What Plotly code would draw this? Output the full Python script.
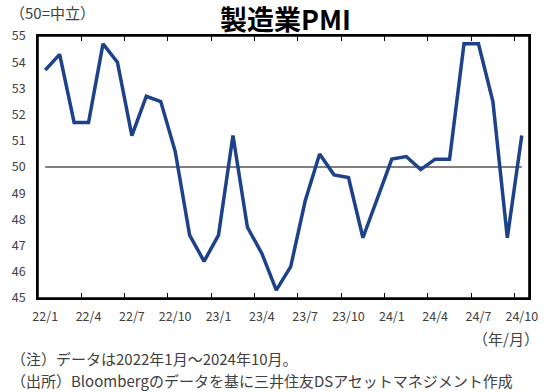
import plotly.graph_objects as go

# ---- data ----
months = [
    "22/1", "22/2", "22/3", "22/4", "22/5", "22/6", "22/7", "22/8", "22/9", "22/10", "22/11", "22/12",
    "23/1", "23/2", "23/3", "23/4", "23/5", "23/6", "23/7", "23/8", "23/9", "23/10", "23/11", "23/12",
    "24/1", "24/2", "24/3", "24/4", "24/5", "24/6", "24/7", "24/8", "24/9", "24/10",
]
pmi = [
    53.7, 54.3, 51.7, 51.7, 54.7, 54.0, 51.2, 52.7, 52.5, 50.6, 47.4, 46.4,
    47.4, 51.2, 47.7, 46.7, 45.3, 46.2, 48.7, 50.5, 49.7, 49.6, 47.3, 48.8,
    50.3, 50.4, 49.9, 50.3, 50.3, 54.7, 54.7, 52.5, 47.3, 51.2,
]
neutral_level = 50
tick_labels = ["22/1", "22/4", "22/7", "22/10", "23/1", "23/4", "23/7", "23/10",
               "24/1", "24/4", "24/7", "24/10"]
y_ticks = [45, 46, 47, 48, 49, 50, 51, 52, 53, 54, 55]

FONT = "Noto Sans CJK JP"
TXT = "#404040"

xs = list(range(len(months)))
tick_pos = [months.index(t) for t in tick_labels]

fig = go.Figure()
fig.add_trace(go.Scatter(
    x=xs, y=[neutral_level] * len(xs), mode="lines",
    line=dict(color="#000000", width=1.1), hoverinfo="skip", showlegend=False,
))
fig.add_trace(go.Scatter(
    x=xs, y=pmi, mode="lines",
    line=dict(color="#1d428a", width=3.5), showlegend=False,
))

W, H = 550, 392
L, R, T, B = 33, 533, 36, 298
pw, ph = R - L, B - T

def px(x):
    return (x - L) / pw

def py(y):
    return (B - y) / ph

fig.update_layout(
    width=W, height=H,
    margin=dict(l=L, r=W - R, t=T, b=H - B, pad=0),
    paper_bgcolor="white", plot_bgcolor="white",
    font=dict(family=FONT, color=TXT, size=12),
    xaxis=dict(
        range=[-0.5, len(months) - 0.5],
        tickmode="array", tickvals=tick_pos, ticktext=tick_labels,
        ticks="", showgrid=False, zeroline=False,
        showline=True, linecolor="#000000", linewidth=1.5, mirror="all",
        tickfont=dict(size=12.5, color=TXT, family=FONT),
        ticklabelstandoff=6,
        minor=dict(tickmode="array",
                   tickvals=[p - 0.5 for p in tick_pos[1:]],
                   ticks="inside", ticklen=5, tickwidth=1, tickcolor="#000000"),
    ),
    yaxis=dict(
        range=[45, 55], tickmode="array", tickvals=y_ticks,
        ticks="", showgrid=False, zeroline=False,
        showline=True, linecolor="#000000", linewidth=1.5, mirror="all",
        tickfont=dict(size=12.5, color=TXT, family=FONT),
        ticklabelstandoff=8,
    ),
    shapes=[
        dict(type="rect", xref="paper", yref="paper", x0=0, x1=1, y0=0, y1=1,
             line=dict(color="#000000", width=1.6), fillcolor="rgba(0,0,0,0)",
             layer="above"),
    ],
    annotations=[
        dict(text="<b>製造業PMI</b>", xref="paper", yref="paper",
             x=px(285), y=py(19), xanchor="center", yanchor="middle",
             showarrow=False, font=dict(size=27, color="#000000", family=FONT)),
        dict(text="（50=中立）", xref="paper", yref="paper",
             x=px(2), y=py(12), xanchor="left", yanchor="middle",
             showarrow=False, font=dict(size=15, color=TXT, family=FONT)),
        dict(text="（年/月）", xref="paper", yref="paper",
             x=px(545), y=py(338), xanchor="right", yanchor="middle",
             showarrow=False, font=dict(size=15, color=TXT, family=FONT)),
        dict(text="（注）データは2022年1月～2024年10月。", xref="paper", yref="paper",
             x=px(3), y=py(359), xanchor="left", yanchor="middle",
             showarrow=False, font=dict(size=15, color=TXT, family=FONT)),
        dict(text="（出所）Bloombergのデータを基に三井住友DSアセットマネジメント作成",
             xref="paper", yref="paper",
             x=px(3), y=py(380), xanchor="left", yanchor="middle",
             showarrow=False, font=dict(size=15, color=TXT, family=FONT)),
    ],
)

fig.write_html(
    "out.html",
    config={"displayModeBar": False},
    post_script="document.body.style.margin='0';document.body.style.overflow='hidden';",
)
